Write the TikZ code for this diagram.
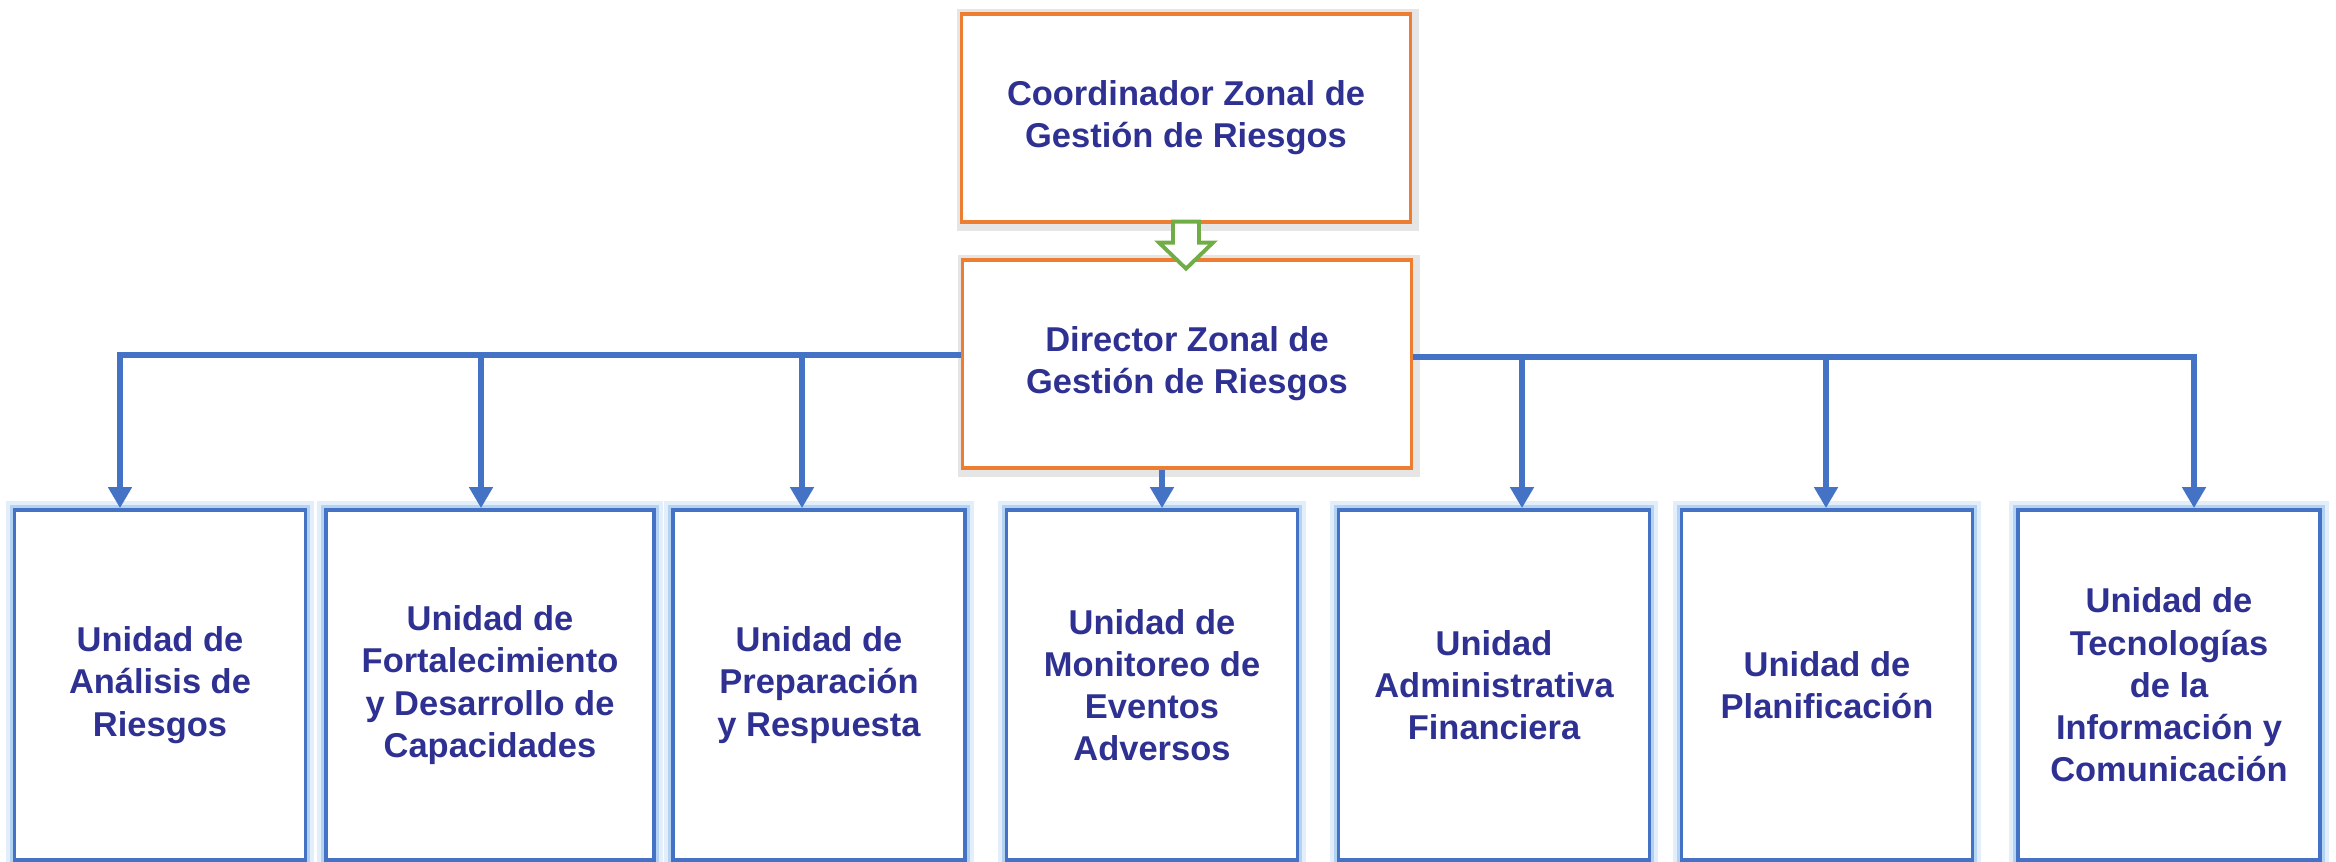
\documentclass[tikz,border=0pt]{standalone}
\usepackage{fontspec}
\setmainfont{Liberation Sans}
\usetikzlibrary{arrows.meta}

\definecolor{naranja}{HTML}{ED7D31}
\definecolor{azul}{HTML}{4472C4}
\definecolor{verde}{HTML}{70AD47}
\definecolor{texto}{HTML}{2E3192}
\definecolor{brillo}{HTML}{E2EEFA}
\definecolor{brillo2}{HTML}{B4D3F2}

\begin{document}
\begin{tikzpicture}[x=0.01cm,y=-0.01cm,
    letra/.style={text=texto,align=center,font=\fontsize{9.8pt}{12pt}\selectfont\bfseries},
    jefe/.style={letra,draw=naranja,line width=0.9pt,fill=white,
      minimum width=4.48cm,minimum height=2.08cm,
      preaction={draw=black!10,line width=4pt,transform canvas={xshift=0.6pt,yshift=-0.6pt}}},
    unidad/.style={letra,draw=azul,line width=1pt,fill=white,minimum height=3.5cm,
      preaction={draw=brillo,line width=5pt},preaction={draw=brillo2,line width=2.6pt}},
    linea/.style={draw=azul,line width=1.5pt},
    flecha/.style={linea,-{Triangle[width=6.5pt,length=6pt]}}]
    \useasboundingbox (0,0) rectangle (2336,862);

    % jefaturas
    \node[jefe] (coord) at (1186,118) {Coordinador Zonal de\\Gestión de Riesgos};
    \node[jefe] (dir) at (1187,364) {Director Zonal de\\Gestión de Riesgos};

    % unidades
    \node[unidad,minimum width=2.91cm] (u1) at (160,685) {Unidad de\\Análisis de\\Riesgos};
    \node[unidad,minimum width=3.28cm] (u2) at (490,685) {Unidad de\\Fortalecimiento\\y Desarrollo de\\Capacidades};
    \node[unidad,minimum width=2.92cm] (u3) at (819,685) {Unidad de\\Preparación\\y Respuesta};
    \node[unidad,minimum width=2.91cm] (u4) at (1152,685) {Unidad de\\Monitoreo de\\Eventos\\Adversos};
    \node[unidad,minimum width=3.11cm] (u5) at (1494,685) {Unidad\\Administrativa\\Financiera};
    \node[unidad,minimum width=2.91cm] (u6) at (1827,685) {Unidad de\\Planificación};
    \node[unidad,minimum width=3.02cm] (u7) at (2169,685) {Unidad de\\Tecnologías\\de la\\Información y\\Comunicación};

    % puntos de la barra
    \coordinate (j1) at (120,355);
    \coordinate (j2) at (481,355);
    \coordinate (j3) at (802,355);
    \coordinate (j4) at (1162,356);
    \coordinate (j5) at (1522,357);
    \coordinate (j6) at (1826,357);
    \coordinate (j7) at (2194,357);

    \draw[flecha] (j1 -| dir.west) -- (j1) -- (j1 |- u1.north);
    \draw[flecha] (j7 -| dir.east) -- (j7) -- (j7 |- u7.north);
    \foreach \k in {2,3,5,6}
        \draw[flecha] (j\k) -- (j\k |- u\k.north);
    \draw[flecha] (j4 |- dir.south) -- (j4 |- u4.north);

    % flecha verde
    \draw[verde,line width=1.1pt,fill=white,shift={(coord.south)}]
        (-13,-2) -- (-13,19) -- (-27,19) -- (0,45) -- (27,19) -- (13,19) -- (13,-2) -- cycle;
\end{tikzpicture}
\end{document}
